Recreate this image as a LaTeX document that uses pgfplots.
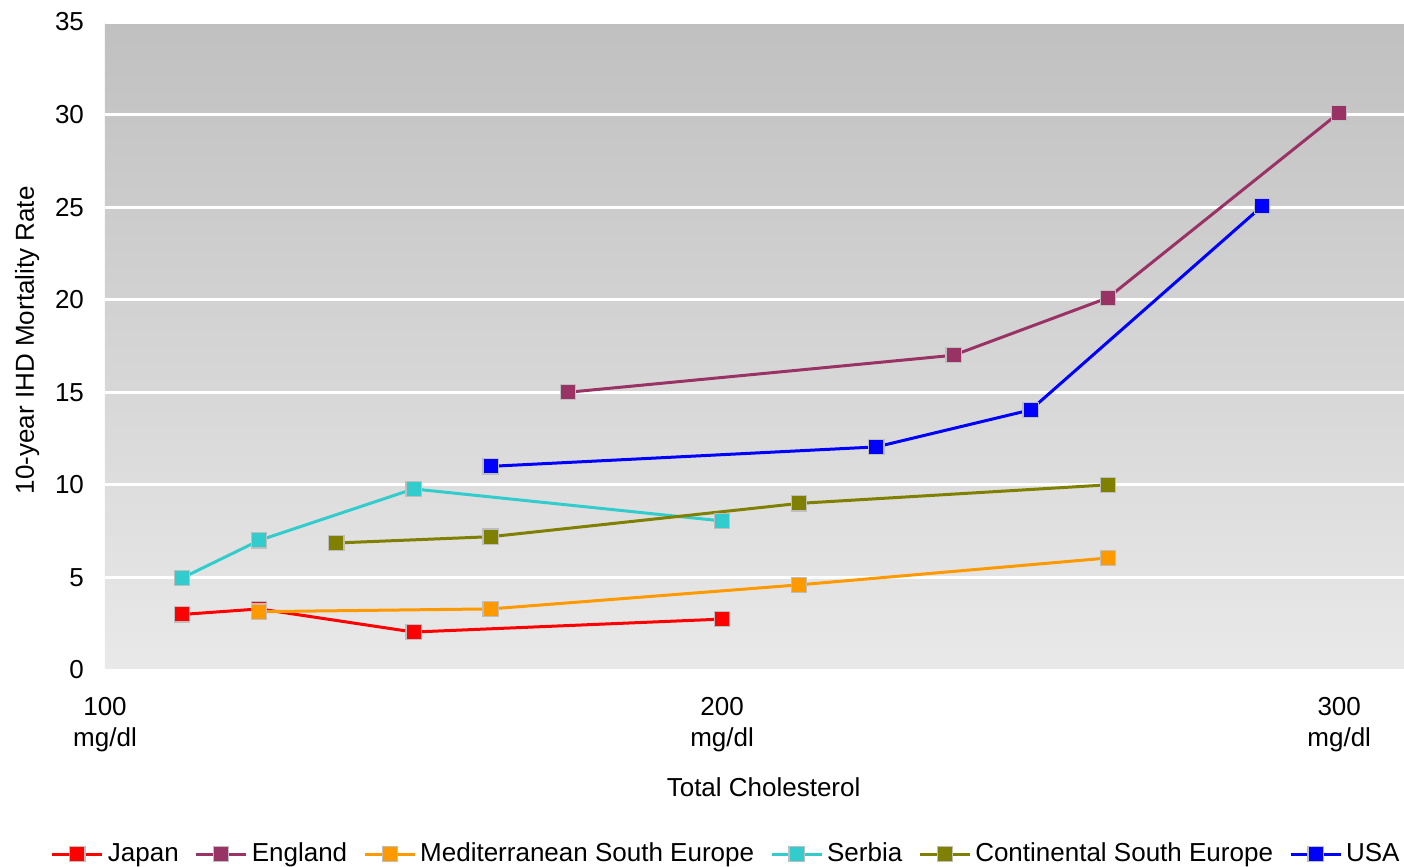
\documentclass[border=0pt]{standalone}
\usepackage{fontspec}
\setmainfont{Liberation Sans}
\usepackage{pgfplots}
\pgfplotsset{compat=1.18}

\definecolor{cJapan}{HTML}{FF0000}
\definecolor{cEngland}{HTML}{993366}
\definecolor{cMed}{HTML}{FF9900}
\definecolor{cSerbia}{HTML}{33CCCC}
\definecolor{cCont}{HTML}{808000}
\definecolor{cUSA}{HTML}{0000FF}
\definecolor{mkborder}{HTML}{BEBEBE}
\definecolor{bgtop}{HTML}{C0C0C0}
\definecolor{bgbot}{HTML}{E9E9E9}

\pgfplotsset{
  ser/.style={color=#1, line width=1.5pt, mark=square*,
    mark options={draw=mkborder, fill=#1, line width=0.6pt, mark size=3.8pt}},
}

\begin{document}
\fontsize{13}{15.6}\selectfont
\begin{tikzpicture}
\useasboundingbox (-52.5pt,-98.5pt) rectangle (649.5pt,335pt);
\begin{axis}[
  scale only axis,
  width=649.5pt, height=324pt,
  xmin=100, xmax=310.5,
  ymin=0, ymax=35,
  xtick={100,200,300},
  xticklabels={{100\\mg/dl},{200\\mg/dl},{300\\mg/dl}},
  xticklabel style={align=center, yshift=-9pt},
  ytick={0,5,...,35},
  yticklabel style={xshift=-6pt},
  /pgf/number format/assume math mode=true,
  major tick length=0pt,
  axis line style={draw=none},
  ymajorgrids,
  grid style={white, line width=1.5pt},
  axis background/.style={shade, top color=bgtop, bottom color=bgbot},
  font=\fontsize{13}{15.6}\selectfont,
  xlabel={Total Cholesterol},
  xlabel style={at={(axis description cs:0.507,-0.181)}, anchor=center},
  ylabel={10-year IHD Mortality Rate},
  ylabel style={at={(axis description cs:-0.06,0.509)}, anchor=center, rotate=0},
  legend columns=6,
  legend style={at={(axis description cs:0.479,-0.284)}, anchor=center,
    draw=none, fill=none, font=\fontsize{13}{15.6}\selectfont,
    /tikz/every even column/.append style={column sep=6pt},
    inner sep=0pt},
  legend cell align=left,
  legend image code/.code={%
    \draw[mark repeat=2, mark phase=2, #1] plot coordinates {(0pt,0pt) (12.5pt,0pt) (25pt,0pt)};},
]
\addplot[ser=cJapan] coordinates {(112.5,3.0) (125,3.3) (150,2.05) (200,2.75)};
\addlegendentry{Japan}
\addplot[ser=cEngland] coordinates {(175,15.0) (237.5,17.0) (262.5,20.1) (300,30.1)};
\addlegendentry{England}
\addplot[ser=cMed] coordinates {(125,3.15) (162.5,3.3) (212.5,4.6) (262.5,6.05)};
\addlegendentry{Mediterranean South Europe}
\addplot[ser=cSerbia] coordinates {(112.5,4.97) (125,7.0) (150,9.78) (200,8.05)};
\addlegendentry{Serbia}
\addplot[ser=cCont] coordinates {(137.5,6.86) (162.5,7.2) (212.5,9.0) (262.5,10.0)};
\addlegendentry{Continental South Europe}
\addplot[ser=cUSA] coordinates {(162.5,11.0) (225,12.05) (250,14.05) (287.5,25.05)};
\addlegendentry{USA}
\end{axis}
\end{tikzpicture}
\end{document}
